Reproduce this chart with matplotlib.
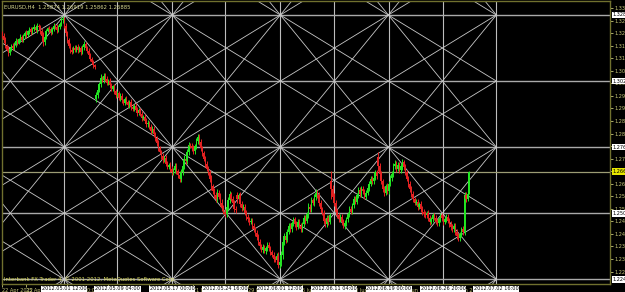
import matplotlib
matplotlib.use("Agg")
import matplotlib.pyplot as plt
import numpy as np
import pandas as pd

# ---------------- data ----------------
symbol_title = "EURUSD,H4  1.25874 1.26919 1.25862 1.26885"
copyright_text = "Interbank FX Trader 4, \u00a9 2001-2012, MetaQuotes Software Corp."

first_bar = "2012-04-22 20:00"
first_open = 1.3215
closes = [
    1.3205, 1.3190, 1.3165, 1.3150, 1.3138, 1.3152, 1.3165, 1.3158, 1.3172, 1.3185,
    1.3178, 1.3192, 1.3200, 1.3188, 1.3205, 1.3215, 1.3208, 1.3222, 1.3230, 1.3218,
    1.3232, 1.3240, 1.3228, 1.3245, 1.3238, 1.3222, 1.3205, 1.3180, 1.3200, 1.3225,
    1.3235, 1.3230, 1.3218, 1.3232, 1.3245, 1.3238, 1.3228, 1.3240, 1.3252, 1.3268,
    1.3272, 1.3245, 1.3215, 1.3188, 1.3165, 1.3150, 1.3142, 1.3158, 1.3150, 1.3162,
    1.3148, 1.3155, 1.3140, 1.3160, 1.3172, 1.3155, 1.3145, 1.3128, 1.3115, 1.3100,
    1.3088, 1.3082, 1.2970, 1.2990, 1.3015, 1.3040, 1.3030, 1.3048, 1.3035, 1.3020,
    1.3028, 1.3010, 1.2995, 1.3005, 1.2985, 1.2970, 1.2978, 1.2960, 1.2968, 1.2950,
    1.2940, 1.2955, 1.2945, 1.2930, 1.2942, 1.2925, 1.2915, 1.2928, 1.2912, 1.2900,
    1.2910, 1.2895, 1.2880, 1.2885, 1.2870, 1.2855, 1.2862, 1.2845, 1.2830, 1.2838,
    1.2815, 1.2800, 1.2780, 1.2760, 1.2745, 1.2730, 1.2715, 1.2722, 1.2700, 1.2688,
    1.2695, 1.2680, 1.2665, 1.2675, 1.2690, 1.2670, 1.2655, 1.2640, 1.2665, 1.2690,
    1.2720, 1.2710, 1.2745, 1.2775, 1.2770, 1.2760, 1.2748, 1.2770, 1.2790, 1.2805,
    1.2785, 1.2760, 1.2740, 1.2718, 1.2700, 1.2680, 1.2665, 1.2640, 1.2610, 1.2590,
    1.2575, 1.2560, 1.2585, 1.2570, 1.2545, 1.2525, 1.2510, 1.2500, 1.2530, 1.2555,
    1.2580, 1.2560, 1.2545, 1.2520, 1.2515, 1.2560, 1.2575, 1.2540, 1.2525, 1.2530,
    1.2505, 1.2490, 1.2480, 1.2470, 1.2475, 1.2455, 1.2440, 1.2425, 1.2410, 1.2390,
    1.2375, 1.2360, 1.2370, 1.2355, 1.2365, 1.2380, 1.2365, 1.2350, 1.2340, 1.2325,
    1.2320, 1.2335, 1.2300, 1.2310, 1.2340, 1.2390, 1.2415, 1.2400, 1.2430, 1.2455,
    1.2440, 1.2465, 1.2480, 1.2460, 1.2450, 1.2470, 1.2455, 1.2440, 1.2460, 1.2485,
    1.2475, 1.2500, 1.2530, 1.2520, 1.2555, 1.2545, 1.2570, 1.2585, 1.2575, 1.2545,
    1.2520, 1.2505, 1.2475, 1.2460, 1.2485, 1.2470, 1.2495, 1.2600, 1.2570, 1.2545,
    1.2510, 1.2495, 1.2480, 1.2490, 1.2470, 1.2455, 1.2465, 1.2480, 1.2500, 1.2520,
    1.2510, 1.2535, 1.2560, 1.2550, 1.2575, 1.2595, 1.2580, 1.2600, 1.2590, 1.2570,
    1.2585, 1.2605, 1.2620, 1.2640, 1.2630, 1.2645, 1.2665, 1.2650, 1.2690, 1.2660,
    1.2630, 1.2600, 1.2585, 1.2610, 1.2590, 1.2620, 1.2645, 1.2660, 1.2690, 1.2700,
    1.2680, 1.2695, 1.2675, 1.2690, 1.2705, 1.2685, 1.2665, 1.2640, 1.2620, 1.2600,
    1.2580, 1.2560, 1.2545, 1.2550, 1.2530, 1.2540, 1.2520, 1.2510, 1.2500, 1.2495,
    1.2505, 1.2485, 1.2470, 1.2480, 1.2495, 1.2485, 1.2470, 1.2465, 1.2480, 1.2495,
    1.2485, 1.2470, 1.2480, 1.2490, 1.2475, 1.2460, 1.2450, 1.2440, 1.2455, 1.2430,
    1.2415, 1.2405, 1.2420, 1.2440, 1.2430, 1.2575, 1.2560, 1.2580, 1.2668,
]
gap_opens = {62: 1.2955, 155: 1.2575, 217: 1.2630, 248: 1.2725}
wick_pips = [
    8, 12, 10, 6, 14, 9, 7, 11, 8, 10,
    9, 6, 12, 8, 7, 10, 13, 6, 9, 11,
    7, 10, 8, 12, 6, 9, 14, 16, 10, 8,
    6, 9, 11, 7, 10, 8, 12, 9, 7, 10,
    11, 9, 12, 10, 8, 13, 9, 7, 10, 8,
    12, 9, 10, 7, 11, 8, 9, 12, 10, 8,
    9, 7, 12, 10, 9, 13, 8, 11, 9, 10,
    8, 12, 9, 7, 10, 11, 8, 9, 12, 10,
    7, 9, 11, 8, 10, 12, 9, 8, 10, 11,
    9, 8, 12, 7, 10, 9, 11, 8, 12, 10,
    9, 11, 10, 12, 8, 10, 13, 9, 11, 10,
    8, 12, 10, 9, 11, 13, 10, 14, 12, 11,
    13, 10, 12, 11, 8, 10, 12, 9, 11, 13,
    10, 12, 11, 9, 13, 10, 12, 11, 14, 10,
    12, 11, 13, 10, 12, 14, 11, 12, 10, 13,
    11, 9, 12, 10, 11, 14, 10, 12, 11, 9,
    10, 12, 9, 11, 10, 12, 9, 11, 12, 10,
    11, 9, 12, 10, 11, 10, 12, 11, 9, 12,
    10, 11, 14, 12, 13, 15, 10, 12, 11, 10,
    12, 10, 11, 9, 12, 10, 11, 12, 10, 11,
    12, 10, 13, 11, 12, 10, 11, 13, 12, 11,
    12, 10, 11, 12, 10, 11, 9, 40, 14, 12,
    13, 11, 10, 12, 11, 10, 12, 11, 10, 12,
    11, 10, 12, 11, 10, 12, 11, 10, 12, 11,
    10, 11, 12, 10, 11, 12, 10, 11, 20, 14,
    12, 11, 13, 10, 12, 11, 10, 12, 11, 13,
    12, 10, 11, 12, 14, 11, 12, 10, 11, 12,
    10, 11, 9, 10, 12, 10, 11, 12, 10, 11,
    9, 10, 12, 10, 11, 9, 10, 12, 11, 10,
    11, 12, 10, 11, 9, 10, 12, 11, 10, 12,
    11, 12, 10, 11, 12, 14, 12, 6, 2,
]

hline_prices = [1.3287, 1.3026, 1.2765, 1.2504, 1.2243]
vline_times = ["2012.05.01 12:00", "2012.05.09 04:00", "2012.05.17 00:00",
               "2012.05.24 16:00", "2012.06.01 12:00", "2012.06.11 04:00",
               "2012.06.19 00:00", "2012.06.26 20:00", "2012.07.02 16:00"]
bid_price = 1.2668
price_labels = [1.33146, 1.32650, 1.32155, 1.31659, 1.31163, 1.30667, 1.30172,
                1.29676, 1.29180, 1.28684, 1.28189, 1.27693, 1.27197, 1.26701,
                1.26206, 1.25710, 1.25214, 1.24719, 1.24223, 1.23727, 1.23231,
                1.22736]
time_labels = [("2012-04-22 20:00", "22 Apr 2012"), ("2012-04-25 12:00", "25 Apr 12:00"),
               ("2012-05-01 20:00", "1 May 20:00"), ("2012-05-08 04:00", "8 May 04:00"),
               ("2012-05-14 12:00", "14 May 12:00"), ("2012-05-21 04:00", "21 May 04:00"),
               ("2012-05-29 00:00", "29 May 00:00"), ("2012-06-05 20:00", "5 Jun 20:00"),
               ("2012-06-13 04:00", "13 Jun 04:00"), ("2012-06-20 12:00", "20 Jun 12:00"),
               ("2012-06-27 20:00", "27 Jun 20:00")]

# ---------------- helpers ----------------
BG = "black"
FG = "#c8c878"
BORDER = "#70702e"
UP = "#22e622"
DN = "#e62222"
GRID = "#c8c8c8"

n = len(closes)
all_times = pd.date_range(first_bar, periods=2000, freq="4h")
mask = (all_times.weekday < 5) | ((all_times.weekday == 6) & (all_times.hour == 20))
bar_times = all_times[mask][:n]


def t2i(ts):
    t = pd.Timestamp(ts.replace(".", "-"))
    if t <= bar_times[-1]:
        return int(np.searchsorted(bar_times, t))
    return (n - 1) + (t - bar_times[-1]) / pd.Timedelta(hours=4)


fig = plt.figure(figsize=(6.25, 2.92), dpi=100, facecolor=BG)
W, H = 625, 292
ax_l, ax_r, ax_t, ax_b = 2, 610, 1, 284
ax = fig.add_axes([ax_l / W, 1 - ax_b / H, (ax_r - ax_l) / W, (ax_b - ax_t) / H])
ax.set_facecolor(BG)

px_per_bar = 1.516
x_left = -0.1
ax.set_xlim(x_left, x_left + (ax_r - ax_l) / px_per_bar)
ax.set_ylim(1.22244, 1.33423)

# ---------------- grid objects ----------------
v_idx = [t2i(t) for t in vline_times]
for xi in v_idx:
    ax.axvline(xi, color="#bdbdbd", lw=0.8, zorder=1)
for p in hline_prices:
    ax.axhline(p, color="#a9a9a9", lw=1.0, zorder=1)
ax.axhline(bid_price, color="#9c9c74", lw=0.9, zorder=1)

i0 = v_idx[0]
cell_bars = (v_idx[-1] - v_idx[0]) / 8.0
p0 = hline_prices[0]
cell_p = (hline_prices[0] - hline_prices[-1]) / 4.0
u_min = (ax.get_xlim()[0] - i0) / cell_bars - 0.1
u_max = 8.0
us = np.array([u_min, u_max])
for slope, parity in [(1, 2), (-1, 2), (0.5, 1), (-0.5, 1)]:
    for k in range(-30, 31):
        vs = slope * us + k * parity
        ax.plot(i0 + us * cell_bars, p0 - vs * cell_p, color=GRID, lw=0.6, zorder=2)

# ---------------- candles ----------------
idx = np.arange(n)
c = np.array(closes)
o = np.array([first_open] + closes[:-1])
for k, v in gap_opens.items():
    o[k] = v
w = np.array(wick_pips) * 0.0001
hi = np.maximum(o, c) + w
lo = np.minimum(o, c) - w
up = c >= o
cols = np.where(up, UP, DN)
ax.vlines(idx, lo, hi, colors=cols, lw=0.7, zorder=3)
body = np.where(np.abs(c - o) < 0.0002, 0.0002, c - o)
ax.bar(idx, body, bottom=o, width=0.9, color=cols, linewidth=0, zorder=4)

# ---------------- axes styling ----------------
for s in ["top", "left", "right", "bottom"]:
    ax.spines[s].set_color(BORDER)
    ax.spines[s].set_linewidth(1.0)

ax.yaxis.tick_right()
ax.set_yticks(price_labels)
ax.set_yticklabels([f"{p:.5f}" for p in price_labels])
ax.tick_params(axis="y", colors=FG, labelsize=3.6, length=2, width=0.6, pad=1.5, direction="out")

ax.set_xticks([t2i(t) for t, _ in time_labels])
ax.set_xticklabels([lab for _, lab in time_labels])
ax.tick_params(axis="x", colors=FG, labelsize=3.6, length=2, width=0.6, pad=1.2, direction="out")
for lbl in ax.get_xticklabels():
    lbl.set_ha("left")

# boxed labels of the line objects
ytr = ax.get_yaxis_transform()
for p in hline_prices:
    ax.text(1.004, p, f"{p:.5f}", transform=ytr, fontsize=3.6, color="black", va="center",
            ha="left", clip_on=False, zorder=10,
            bbox=dict(facecolor="white", edgecolor="none", pad=0.6))
ax.text(1.004, bid_price, f"{bid_price:.5f}", transform=ytr, fontsize=3.6, color="black",
        va="center", ha="left", clip_on=False, zorder=10,
        bbox=dict(facecolor="#e8e800", edgecolor="none", pad=0.6))

xtr = ax.get_xaxis_transform()
for t, xi in zip(vline_times, v_idx):
    ax.text(xi, -0.017, t, transform=xtr, fontsize=3.6, color="black", va="center",
            ha="center", clip_on=False, zorder=10,
            bbox=dict(facecolor="white", edgecolor="none", pad=0.5))

ax.text(0.004, 0.985, symbol_title, transform=ax.transAxes, fontsize=3.8, color="#d8d890",
        va="top", ha="left")
ax.text(0.003, 0.008, copyright_text, transform=ax.transAxes, fontsize=3.8, color="#e0e060",
        va="bottom", ha="left")

fig.savefig("out.png", dpi=100, facecolor=BG)
